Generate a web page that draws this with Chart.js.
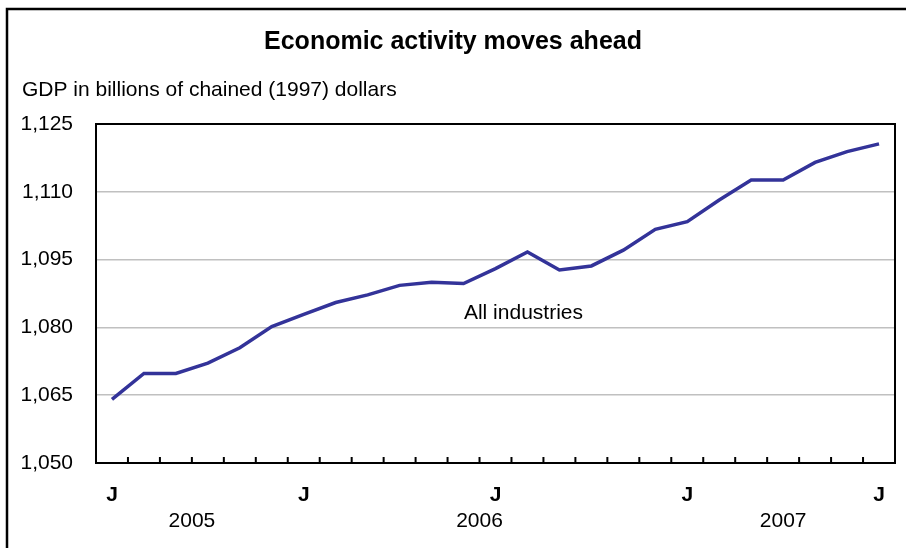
<!DOCTYPE html>
<html>
<head>
<meta charset="utf-8">
<script src="https://cdn.jsdelivr.net/npm/chart.js@4/dist/chart.umd.min.js"></script>
<style>
  html, body { margin: 0; padding: 0; background: #ffffff; }
  #wrap { width: 906px; height: 548px; position: relative; }
</style>
</head>
<body>
<div id="wrap"><canvas id="c" width="906" height="548"></canvas></div>
<script>
// ---- Data ----
const months = ['Jul','Aug','Sep','Oct','Nov','Dec','Jan','Feb','Mar','Apr','May','Jun','Jul','Aug','Sep','Oct','Nov','Dec','Jan','Feb','Mar','Apr','May','Jun','Jul'];
const monthLabels = ['J','','','','','','J','','','','','','J','','','','','','J','','','','','','J'];
const years = ['2005','2005','2005','2005','2005','2005','2006','2006','2006','2006','2006','2006','2006','2006','2006','2006','2006','2006','2007','2007','2007','2007','2007','2007','2007'];
const gdp = [1064.1, 1069.8, 1069.8, 1072.1, 1075.5, 1080.2, 1082.9, 1085.5, 1087.2, 1089.3, 1090.0, 1089.7, 1093.0, 1096.7, 1092.7, 1093.6, 1097.1, 1101.7, 1103.4, 1108.2, 1112.6, 1112.6, 1116.5, 1118.9, 1120.6];
const yTicks = [1050, 1065, 1080, 1095, 1110, 1125];
const seriesName = 'All industries';
const titleText = 'Economic activity moves ahead';
const subtitleText = 'GDP in billions of chained (1997) dollars';

const FONT = '"Liberation Sans", Arial, Helvetica, sans-serif';

const decor = {
  id: 'decor',
  beforeDraw(chart) {
    const ctx = chart.ctx;
    ctx.save();
    ctx.fillStyle = '#ffffff';
    ctx.fillRect(0, 0, chart.width, chart.height);
    // outer frame (left + top)
    ctx.strokeStyle = '#000000';
    ctx.lineWidth = 2.5;
    ctx.beginPath();
    ctx.moveTo(7, chart.height);
    ctx.lineTo(7, 9);
    ctx.lineTo(chart.width, 9);
    ctx.stroke();
    // title + subtitle
    ctx.fillStyle = '#000000';
    ctx.textBaseline = 'middle';
    ctx.textAlign = 'center';
    ctx.font = 'bold 25px ' + FONT;
    ctx.fillText(titleText, 453, 42);
    ctx.textAlign = 'left';
    ctx.font = '21px ' + FONT;
    ctx.fillText(subtitleText, 22, 90);
    ctx.restore();
  },
  afterDatasetsDraw(chart) {
    const ctx = chart.ctx;
    const a = chart.chartArea;
    const xs = chart.scales.x, ys = chart.scales.y;
    ctx.save();
    // plot frame
    ctx.strokeStyle = '#000000';
    ctx.lineWidth = 2;
    ctx.strokeRect(a.left, a.top, a.right - a.left, a.bottom - a.top);
    // inward tick marks between categories
    ctx.lineWidth = 2;
    ctx.beginPath();
    for (let i = 1; i < months.length; i++) {
      const x = (xs.getPixelForValue(i - 1) + xs.getPixelForValue(i)) / 2;
      ctx.moveTo(x, a.bottom);
      ctx.lineTo(x, a.bottom - 6);
    }
    ctx.stroke();
    // year labels centred over their months
    ctx.fillStyle = '#000000';
    ctx.font = '21px ' + FONT;
    ctx.textAlign = 'center';
    ctx.textBaseline = 'middle';
    const seen = [];
    years.forEach(y => { if (!seen.includes(y)) seen.push(y); });
    seen.forEach(y => {
      const first = years.indexOf(y), last = years.lastIndexOf(y);
      const x = (xs.getPixelForValue(first) + xs.getPixelForValue(last)) / 2;
      ctx.fillText(y, x, 521);
    });
    // series label
    const lx = xs.getPixelForValue(13) - 4;
    ctx.fillText(seriesName, lx, ys.getPixelForValue(1083.2));
    ctx.restore();
  }
};

new Chart(document.getElementById('c'), {
  type: 'line',
  data: {
    labels: monthLabels,
    datasets: [{
      label: seriesName,
      data: gdp,
      borderColor: '#333399',
      borderWidth: 3.5,
      pointRadius: 0,
      tension: 0,
      fill: false
    }]
  },
  options: {
    responsive: false,
    animation: false,
    devicePixelRatio: 1,
    layout: { padding: { left: 0, top: 124, right: 11, bottom: 0 } },
    plugins: { legend: { display: false }, title: { display: false }, tooltip: { enabled: false } },
    scales: {
      x: {
        type: 'category',
        offset: true,
        grid: { display: false, drawTicks: false },
        border: { display: false },
        ticks: {
          autoSkip: false, maxRotation: 0, minRotation: 0,
          padding: 20,
          color: '#000000',
          font: { family: FONT, size: 21, weight: 'bold' }
        },
        afterFit(s) { s.height = 85; }
      },
      y: {
        min: 1050, max: 1125,
        afterBuildTicks(s) { s.ticks = yTicks.map(v => ({ value: v })); },
        grid: { color: '#c0c0c0', lineWidth: 1.5, drawTicks: false },
        border: { display: false },
        ticks: {
          padding: 23,
          color: '#000000',
          font: { family: FONT, size: 21 },
          callback: v => v.toLocaleString('en-US')
        },
        afterFit(s) { s.width = 96; }
      }
    }
  },
  plugins: [decor]
});
</script>
</body>
</html>
